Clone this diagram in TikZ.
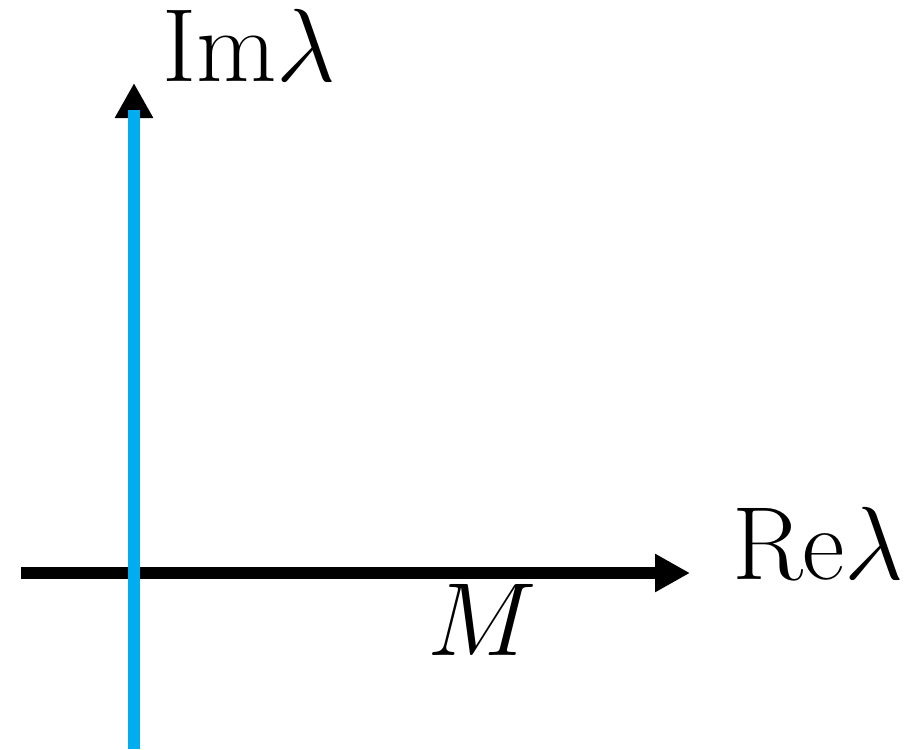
\RequirePackage{fix-cm}
\documentclass[tikz,border=0pt]{standalone}
\usetikzlibrary{arrows.meta}
\definecolor{axisblue}{RGB}{0,174,239}
\tikzset{
  axisline/.style={line width=12pt, black, -{Triangle[length=35pt,width=36pt]}},
  blueline/.style={line width=12pt, axisblue},
  lab/.style={inner sep=0pt, outer sep=0pt, font=\fontsize{104}{108}\selectfont}
}
\begin{document}
\begin{tikzpicture}[x=1pt,y=-1pt]
\useasboundingbox (0,0) rectangle (909,749);
\coordinate (xs) at (21,573);
\coordinate (xe) at (690,573);
\coordinate (ys) at (134,749);
\coordinate (ye) at (134,83);
\coordinate (yb) at (134,110);
\draw[axisline] (ys) -- (ye);
\draw[axisline] (xs) -- (xe);
\draw[blueline] (ys) -- (yb);
\node[lab, anchor=base west] (im) at (162,82) {Im$\lambda$};
\node[lab, anchor=base west] (re) at (732,579) {Re$\lambda$};
\node[lab, anchor=base west] (m) at (427,655) {$M$};
\end{tikzpicture}
\end{document}
